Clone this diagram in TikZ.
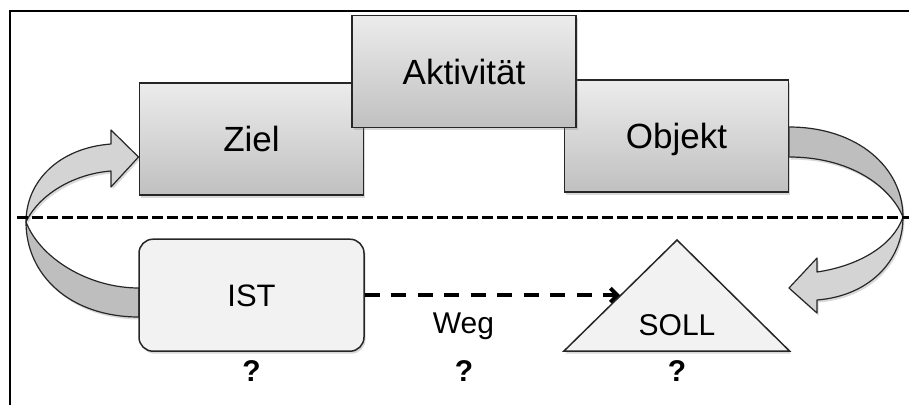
\documentclass[tikz,border=0pt]{standalone}
\usepackage{fontspec}
\setmainfont{Liberation Sans}
\usetikzlibrary{shadows,arrows.meta,calc}
\definecolor{boxtop}{RGB}{236,236,236}
\definecolor{boxbot}{RGB}{192,192,192}
\definecolor{lightfill}{RGB}{242,242,242}
\definecolor{ribLight}{RGB}{212,212,212}
\definecolor{ribDark}{RGB}{190,190,190}
\begin{document}
\begin{tikzpicture}[x=1pt,y=-1pt,
  myshadow/.style={drop shadow={opacity=0.3, shadow xshift=1.5pt, shadow yshift=-2.5pt}},
  box/.style={draw=black!85, line width=1.5pt, top color=boxtop, bottom color=boxbot,
    minimum width=224pt, minimum height=112pt, inner sep=0pt,
    font=\fontsize{35}{40}\selectfont, text height=25pt, text depth=0pt, myshadow},
  istbox/.style={draw=black!85, line width=1.5pt, fill=lightfill, rounded corners=14pt,
    minimum width=225pt, minimum height=112pt, inner sep=0pt,
    font=\fontsize{31}{36}\selectfont, text height=22pt, text depth=0pt, myshadow},
  lbl/.style={font=\fontsize{30}{36}\selectfont, inner sep=0pt, anchor=base},
  qmark/.style={font=\bfseries\fontsize{30}{36}\selectfont, inner sep=0pt, anchor=base},
  ribbon/.style={draw=black!85, line width=1.2pt, line join=round, myshadow},
  sep/.style={line width=3.8pt, dash pattern=on 11pt off 4pt},
  wegarrow/.style={line width=3.8pt, dash pattern=on 15pt off 11.5pt,
    -{Straight Barb[length=7pt,width=14pt]}}]
\useasboundingbox (0,0) rectangle (909,405);

% frame
\draw[line width=2pt] (10,405) -- (10,10.5) -- (909,10.5);

% curved ribbon arrows
% left: lower band (from IST)
\path[ribbon, fill=ribDark]
  (139,317) .. controls (70,317) and (26,275) .. (26,222)
  .. controls (40,258) and (88,288) .. (139,288) -- cycle;
% left: upper band with head to Ziel
\path[ribbon, fill=ribLight]
  (26,222) .. controls (26,182) and (58,148) .. (111,144)
  -- (111,130) -- (138.5,157) -- (111,187) -- (111,171)
  .. controls (72,174) and (38,196) .. (26,222) -- cycle;
% right: upper band (from Objekt)
\path[ribbon, fill=ribDark]
  (789,127) .. controls (858,127) and (903,168) .. (903,217)
  .. controls (890,186) and (850,157) .. (789,157) -- cycle;
% right: lower band with head to SOLL
\path[ribbon, fill=ribLight]
  (903,217) .. controls (903,262) and (868,296) .. (817,300)
  -- (817,313) -- (789,288) -- (817,258) -- (817,272)
  .. controls (858,266) and (893,246) .. (903,217) -- cycle;

% boxes
\node[box] (ziel) at (251.5,139) {Ziel};
\node[box] (objekt) at (676.5,136.2) {Objekt};
\node[box] (akt) at (464,71.7) {Aktivität};

% separator
\coordinate (sepL) at (17,217.5);
\coordinate (sepR) at (909,217.5);
\draw[sep] (sepL) -- (sepR);

% IST
\node[istbox] (ist) at (251.5,295.2) {IST};

% SOLL triangle
\coordinate (apex) at (677,240);
\coordinate (bl) at (564,351);
\coordinate (br) at (789.5,351);
\path[draw=black!85, line width=1.5pt, fill=lightfill, line join=miter, myshadow]
  (apex) -- (br) -- (bl) -- cycle;
\node[lbl] (soll) at (677,335) {SOLL};
\coordinate (sollhit) at (620,295.2);

% Weg arrow
\draw[wegarrow] (ist.east) -- (sollhit);
\node[lbl] (weg) at (463.5,333.3) {Weg};

% question marks
\node[qmark] (q1) at (251.5,381.5) {?};
\node[qmark] (q2) at (464,381) {?};
\node[qmark] (q3) at (677,381) {?};
\end{tikzpicture}
\end{document}
